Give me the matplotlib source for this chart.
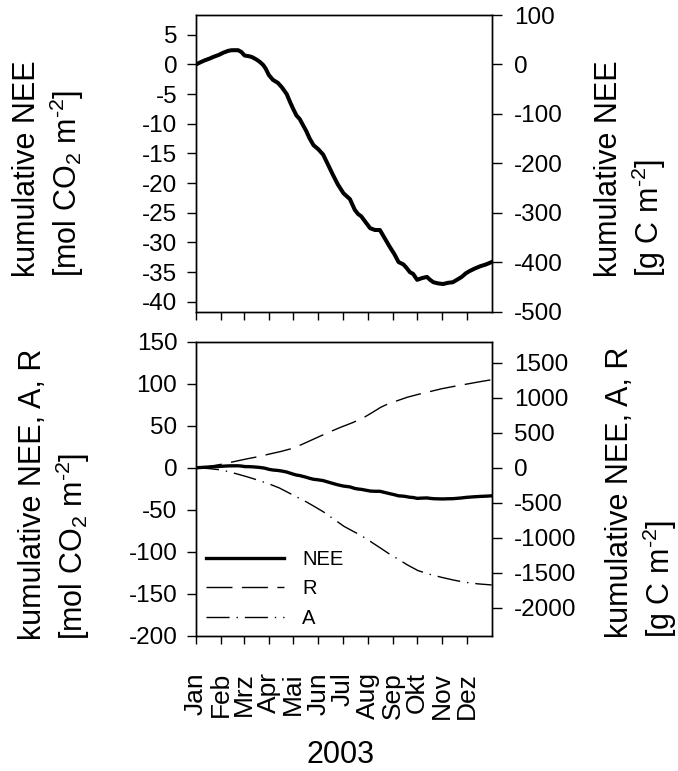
import matplotlib
matplotlib.use("Agg")
import matplotlib.pyplot as plt
import numpy as np

# ================= Style =================
plt.rcParams['font.family'] = 'Liberation Sans'
plt.rcParams['mathtext.fontset'] = 'custom'
plt.rcParams['mathtext.rm'] = 'Liberation Sans'
plt.rcParams['mathtext.it'] = 'Liberation Sans:italic'
plt.rcParams['axes.unicode_minus'] = False
plt.rcParams.update({
    'axes.linewidth': 1.0,
    'xtick.direction': 'out',
    'ytick.direction': 'out',
})

# ================= Data (day of year 2003, mol CO2 m-2) =================
months = ["Jan", "Feb", "Mrz", "Apr", "Mai", "Jun", "Jul", "Aug", "Sep", "Okt", "Nov", "Dez"]
month_start = [0, 31, 59, 90, 120, 151, 181, 212, 243, 273, 304, 334]

nee_day = [0, 6, 11, 17, 21, 28, 34, 40, 44, 52, 56, 60, 65, 69, 75, 79, 83, 86, 90, 95,
           101, 106, 112, 116, 120, 124, 128, 132, 136, 140, 145, 151, 157, 163, 169, 175,
           182, 186, 190, 196, 200, 204, 210, 215, 221, 227, 233, 239, 245, 250, 256, 260,
           264, 268, 273, 279, 285, 289, 293, 299, 305, 311, 317, 322, 328, 333, 338, 344,
           351, 358, 365]
nee_val = [0.0, 0.4, 0.7, 1.0, 1.25, 1.6, 2.0, 2.3, 2.4, 2.4, 2.1, 1.5, 1.4, 1.25, 0.8, 0.4,
           -0.1, -0.7, -1.8, -2.6, -3.1, -3.85, -5.0, -6.3, -7.5, -8.6, -9.2, -10.2, -11.2,
           -12.4, -13.6, -14.3, -15.2, -16.9, -18.6, -20.2, -21.7, -22.2, -22.7, -24.5, -25.2,
           -25.6, -26.7, -27.6, -27.9, -27.9, -29.3, -30.7, -32.0, -33.3, -33.7, -34.3, -35.0,
           -35.3, -36.3, -36.0, -35.8, -36.3, -36.7, -36.9, -37.0, -36.8, -36.7, -36.3, -35.8,
           -35.2, -34.8, -34.4, -34.0, -33.7, -33.3]

r_day = [0, 15, 30, 45, 63, 78, 92, 105, 117, 130, 146, 162, 179, 194, 208, 218, 228, 238,
         249, 261, 274, 288, 303, 318, 332, 348, 365]
r_val = [0, 1.5, 4, 7, 10.7, 13.5, 16.7, 19.5, 22.6, 27.5, 34.5, 41.5, 48.4, 54, 60.3, 66,
         72, 76.5, 80, 84, 87.3, 90.5, 94, 96.8, 99.2, 102, 104.8]

a_day = [0, 15, 30, 40, 50, 60, 71, 82, 92, 103, 113, 125, 137, 147, 158, 170, 183, 194,
         204, 216, 228, 238, 249, 261, 274, 288, 303, 318, 332, 348, 365]
a_val = [0, -0.8, -2.4, -4.5, -7.1, -9.8, -13, -16.5, -19.8, -24, -29, -35, -40.9, -46.5,
         -52.8, -61, -69.8, -75.5, -80.6, -88, -95.6, -102, -108.3, -115.5, -122.2, -126.5,
         -130.2, -133.5, -136.1, -138, -139.3]

C_PER_MOL = 12.0  # g C per mol CO2

W, H = 678, 771
fig = plt.figure(figsize=(W / 100, H / 100), dpi=100)

def fx(px):
    return px / W

def fy(py):
    return 1 - py / H

tick_fs = 17.5
lab_fs = 22

ax1 = fig.add_axes([fx(196), fy(311.7), fx(491.7 - 196), (311.7 - 15) / H])
ax2 = fig.add_axes([fx(196), fy(636), fx(491.7 - 196), (636 - 341.7) / H])

for ax in (ax1, ax2):
    ax.set_xlim(0, 365)
    ax.set_xticks(month_start)
    ax.tick_params(axis='x', length=6, width=1.0)
    ax.tick_params(axis='y', length=6.5, width=1.0, labelsize=tick_fs, pad=7)

# ---- top panel ----
ax1.plot(nee_day, nee_val, color='black', lw=2.9, solid_joinstyle='round')
ax1.set_ylim(-500 / C_PER_MOL, 100 / C_PER_MOL)
ax1.set_yticks(np.arange(-40, 6, 5))
ax1.set_xticklabels([])
ax1r = ax1.twinx()
ax1r.set_ylim(-500, 100)
ax1r.set_yticks(np.arange(-500, 101, 100))
ax1r.tick_params(axis='y', length=7, width=1.0, labelsize=tick_fs, pad=9)

# ---- bottom panel ----
ax2.plot(nee_day, nee_val, color='black', lw=2.4, label='NEE')
ax2.plot(r_day, r_val, color='black', lw=1.0, dashes=(18.7, 6.8), label='R')
ax2.plot(a_day, a_val, color='black', lw=1.0, dashes=(16.6, 5, 1, 5), label='A')
ax2.set_ylim(-200, 150)
ax2.set_yticks(np.arange(-200, 151, 50))
ax2.set_xticklabels(months, rotation=90, fontsize=19, va='top', ha='center')
ax2.tick_params(axis='x', pad=20)
ax2r = ax2.twinx()
ax2r.set_ylim(-200 * C_PER_MOL, 150 * C_PER_MOL)
ax2r.set_yticks(np.arange(-2000, 1501, 500))
ax2r.tick_params(axis='y', length=7, width=1.0, labelsize=tick_fs, pad=9)

ax2.legend(loc='lower left', bbox_to_anchor=(0.0075, 0.0), borderaxespad=0, frameon=False,
           fontsize=14.5, handlelength=3.85, handletextpad=0.9, labelspacing=0.52)

# ---- axis labels ----
unit_mol = "[mol CO$_2$ m$^{\\text{-}2}$]"
unit_c = "[g C m$^{\\text{-}2}$]"
fig.text(fx(49), fy(168.5), "kumulative NEE\n" + unit_mol, rotation=90,
         ha='center', va='center', ma='left', fontsize=lab_fs)
fig.text(fx(55), fy(494), "kumulative NEE, A, R\n" + unit_mol, rotation=90,
         ha='center', va='center', ma='left', fontsize=lab_fs)
fig.text(fx(631), fy(168.5), "kumulative NEE\n" + unit_c, rotation=90,
         ha='center', va='center', ma='left', fontsize=lab_fs)
fig.text(fx(642), fy(492.5), "kumulative NEE, A, R\n" + unit_c, rotation=90,
         ha='center', va='center', ma='left', fontsize=lab_fs)
fig.text(fx(341), fy(755), "2003", ha='center', va='center', fontsize=lab_fs)

fig.savefig("out.png", dpi=100)
